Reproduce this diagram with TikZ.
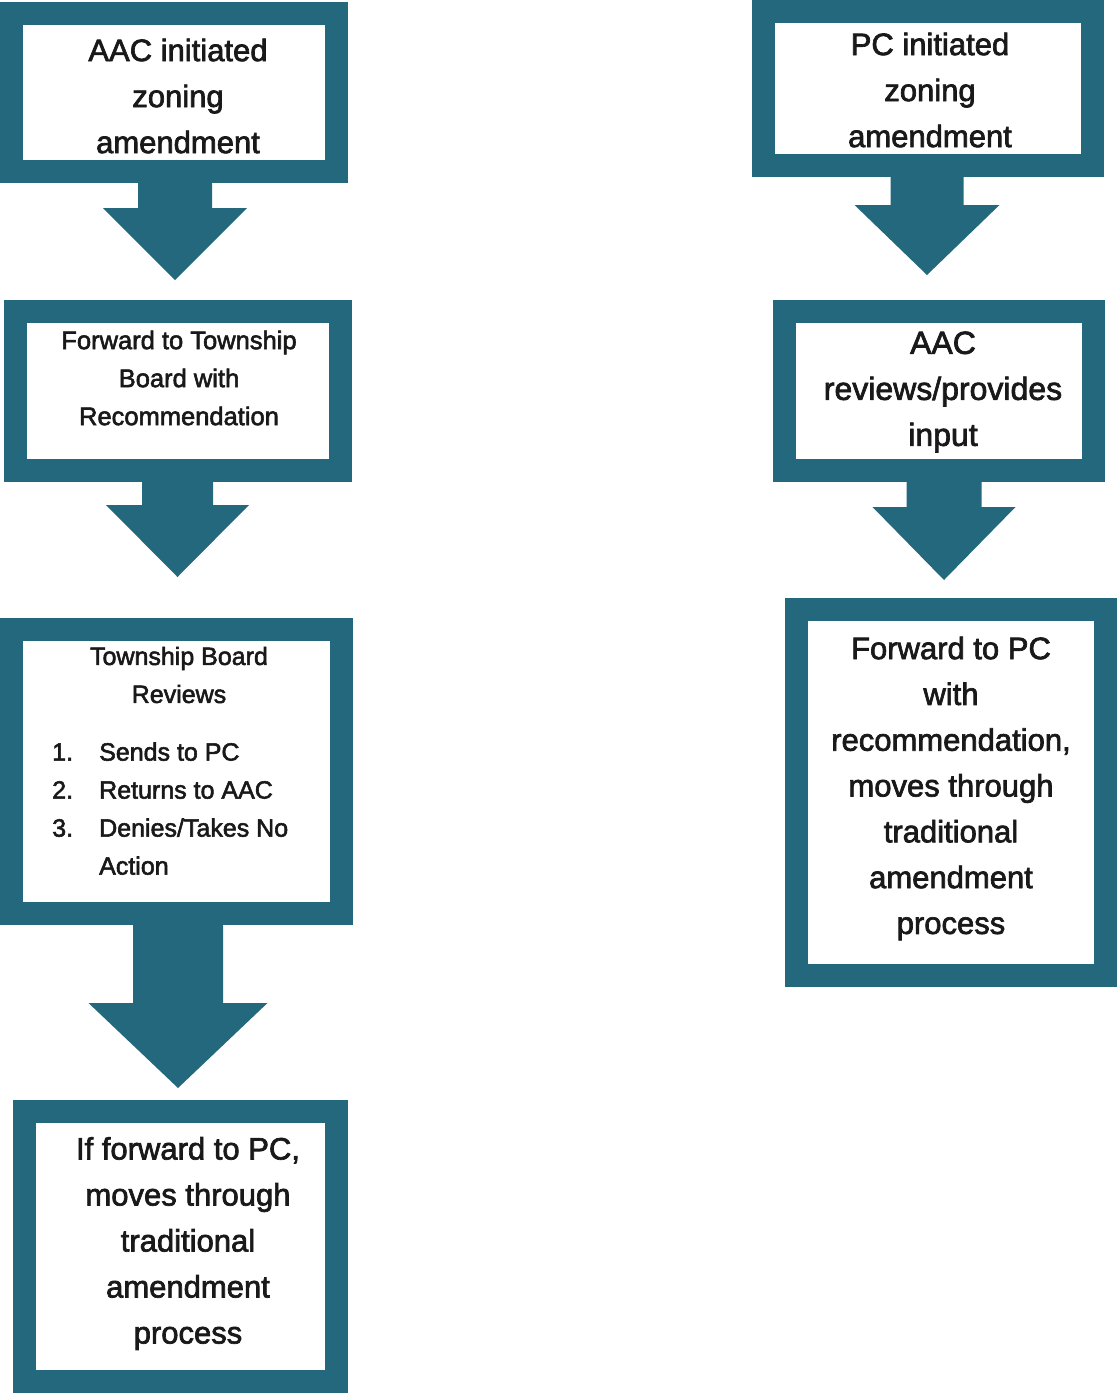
\documentclass[tikz,border=0pt]{standalone}
\usepackage{fontspec}
\setmainfont{Liberation Sans}
\newfontfamily\medsans{Liberation Sans}[FakeBold=2.2]
\usetikzlibrary{calc}
\definecolor{flowteal}{RGB}{36,104,126}
\definecolor{inkblack}{RGB}{25,25,25}
\tikzset{
  flowbox/.style={draw=flowteal, line width=23pt, fill=white, inner sep=0pt},
  bigtxt/.style={align=center, inner sep=0pt, text=inkblack, font=\medsans\fontsize{31}{46}\selectfont},
  smalltxt/.style={align=center, inner sep=0pt, text=inkblack, font=\medsans\fontsize{25}{38}\selectfont},
  arrowfill/.style={fill=flowteal}
}
% #1 from node, #2 to node, #3 shaft half width, #4 head half width,
% #5 head length, #6 gap above target, #7 x offset
\newcommand\flowarrow[7]{%
  \fill[arrowfill] let \p1=(#1.south), \p2=(#2.north) in
    (\x1+#7pt-#3pt,\y1+12pt) -- (\x1+#7pt-#3pt,\y2+#6pt+#5pt)
    -- (\x1+#7pt-#4pt,\y2+#6pt+#5pt) -- (\x1+#7pt,\y2+#6pt)
    -- (\x1+#7pt+#4pt,\y2+#6pt+#5pt) -- (\x1+#7pt+#3pt,\y2+#6pt+#5pt)
    -- (\x1+#7pt+#3pt,\y1+12pt) -- cycle;}
\begin{document}
\begin{tikzpicture}[x=1pt,y=-1pt]
\fill[white] (0,0) rectangle (1117,1395);
\useasboundingbox (0,0) rectangle (1117,1395);

% left column
\node[flowbox, minimum width=325pt, minimum height=158pt] (b1) at (174,92.5) {};
\node[flowbox, minimum width=325pt, minimum height=159pt] (b2) at (178,391) {};
\node[flowbox, minimum width=330pt, minimum height=284pt] (b3) at (176.5,771.5) {};
\node[flowbox, minimum width=312pt, minimum height=270pt] (b4) at (180.5,1246.5) {};
% right column
\node[flowbox, minimum width=329pt, minimum height=154pt] (b5) at (928,88.5) {};
\node[flowbox, minimum width=309pt, minimum height=159pt] (b6) at (939,391) {};
\node[flowbox, minimum width=309pt, minimum height=366pt] (b7) at (951,792.5) {};

% arrows
\flowarrow{b1}{b2}{37}{72}{72}{20}{1}
\flowarrow{b2}{b3}{35.5}{71.5}{72}{41}{-0.5}
\flowarrow{b3}{b4}{45}{89.5}{85}{12}{1.5}
\flowarrow{b5}{b6}{36.5}{72.5}{70}{25}{-1}
\flowarrow{b6}{b7}{37.5}{71.5}{73}{18}{5}

% texts
\node[bigtxt] (t1) at (178,96) {AAC initiated\\zoning\\amendment};
\node[smalltxt, font=\medsans\fontsize{25.5}{38}\selectfont] (t2) at (179,378) {Forward to Township\\Board with\\Recommendation};
\node[smalltxt] (t3a) at (179,675) {Township Board\\Reviews};
\node[smalltxt, anchor=west] (t3b) at (52,810) {%
  \begin{tabular}{@{}p{47pt}@{}l@{}}
  1. & Sends to PC\\
  2. & Returns to AAC\\
  3. & Denies/Takes No\\
     & Action
  \end{tabular}};
\node[bigtxt] (t4) at (188,1243.5) {If forward to PC,\\moves through\\traditional\\amendment\\process};
\node[bigtxt] (t5) at (930,90) {PC initiated\\zoning\\amendment};
\node[bigtxt, font=\medsans\fontsize{32}{46}\selectfont] (t6) at (943,392) {AAC\\reviews/provides\\input};
\node[bigtxt, font=\medsans\fontsize{31}{45.8}\selectfont] (t7) at (951,788.5) {Forward to PC\\with\\recommendation,\\moves through\\traditional\\amendment\\process};
\end{tikzpicture}
\end{document}
